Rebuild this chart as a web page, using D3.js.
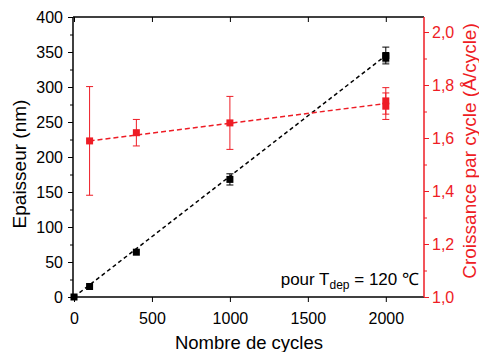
<!DOCTYPE html>
<html><head><meta charset="utf-8">
<script src="https://cdn.jsdelivr.net/npm/d3@7"></script>
<style>body{margin:0;background:#fff}svg{display:block}text{font-family:"Liberation Sans",Arial,sans-serif}</style>
</head><body>
<script>
const cycles = [0, 100, 400, 1000, 2000, 2000];
const thickness = [0, 15, 64, 168, 345, 342];
const thicknessErr = [0, 0, 0, 8, 12, 6];
const growthCycles = [100, 400, 1000, 2000, 2000];
const growth = [1.589, 1.620, 1.657, 1.74, 1.72];
const growthErr = [0.205, 0.05, 0.1, 0.05, 0.05];
const xTicks = [0, 500, 1000, 1500, 2000];
const yTicks = [0, 50, 100, 150, 200, 250, 300, 350, 400];
const y2Ticks = [1.0, 1.2, 1.4, 1.6, 1.8, 2.0];
const fitBlack = [[0, 0], [2000, 345]];
const fitRed = [[100, 1.589], [2000, 1.73]];

const W = 479, H = 352;
const L = 74, R = 424, T = 17, B = 297;
const red = "#ee1c25";
const svg = d3.select("body").append("svg").attr("width", W).attr("height", H);
const x = d3.scaleLinear().domain([0, 2245]).range([L, R]);
const y = d3.scaleLinear().domain([0, 400]).range([B, T]);
const y2 = d3.scaleLinear().domain([1.0, 2.0]).range([B, B - 265]);
const fmt = d3.format(".1f");

// Frame line (top)
svg.append("line").attr("x1", L - 1).attr("x2", R).attr("y1", T).attr("y2", T).attr("stroke", "#000").attr("stroke-width", 1.5);

// Bottom axis
const gx = svg.append("g").attr("transform", `translate(0,${B})`)
  .call(d3.axisBottom(x).tickValues(xTicks).tickSize(5).tickPadding(11).tickFormat(d3.format("d")));
gx.select(".domain").attr("stroke-width", 1.5).attr("d", `M${L - 1},0H${R}`);
gx.selectAll("text").attr("font-size", 16).attr("fill", "#000");
// Top axis ticks inward
svg.append("g").attr("transform", `translate(0,${T})`)
  .call(d3.axisTop(x).tickValues(xTicks).tickSize(-5).tickFormat(""))
  .select(".domain").remove();

// Left axis
const gy = svg.append("g").attr("transform", `translate(${L - 1},0)`)
  .call(d3.axisLeft(y).tickValues(yTicks).tickSize(5).tickPadding(5));
gy.select(".domain").attr("stroke-width", 1.5).attr("d", `M0,${B}V${T}`);
gy.selectAll("text").attr("font-size", 16).attr("fill", "#000");
svg.append("g").attr("transform", `translate(${L - 1},0)`)
  .call(d3.axisLeft(y).tickValues(d3.range(25, 400, 50)).tickSize(3).tickFormat(""))
  .select(".domain").remove();

// Right axis (red)
const gy2 = svg.append("g").attr("transform", `translate(${R},0)`)
  .call(d3.axisRight(y2).tickValues(y2Ticks).tickSize(5).tickPadding(3).tickFormat(d => fmt(d).replace(".", ",")));
gy2.select(".domain").attr("stroke", red).attr("stroke-width", 1.5).attr("d", `M0,${B}V${T}`);
gy2.selectAll("line").attr("stroke", red);
gy2.selectAll("text").attr("font-size", 16).attr("fill", red);
const gy2m = svg.append("g").attr("transform", `translate(${R},0)`)
  .call(d3.axisRight(y2).tickValues([1.1, 1.3, 1.5, 1.7, 1.9]).tickSize(3).tickFormat(""));
gy2m.select(".domain").remove();
gy2m.selectAll("line").attr("stroke", red);

// Fit lines
const lineB = d3.line().x(d => x(d[0])).y(d => y(d[1]));
const lineR = d3.line().x(d => x(d[0])).y(d => y2(d[1]));
svg.append("path").attr("d", lineB(fitBlack)).attr("stroke", "#000").attr("stroke-width", 1.5)
  .attr("stroke-dasharray", "4,3").attr("fill", "none");
svg.append("path").attr("d", lineR(fitRed)).attr("stroke", red).attr("stroke-width", 1.5)
  .attr("stroke-dasharray", "5,3").attr("fill", "none");

// Error bars
function errBars(xs, vs, es, sc, col) {
  const g = svg.append("g").attr("stroke", col).attr("stroke-width", 1);
  xs.forEach((c, i) => {
    if (!es[i]) return;
    const cx = x(c), y1 = sc(vs[i] + es[i]), y0 = sc(vs[i] - es[i]);
    g.append("line").attr("x1", cx).attr("x2", cx).attr("y1", y1).attr("y2", y0);
    g.append("line").attr("x1", cx - 3.5).attr("x2", cx + 3.5).attr("y1", y1).attr("y2", y1);
    g.append("line").attr("x1", cx - 3.5).attr("x2", cx + 3.5).attr("y1", y0).attr("y2", y0);
  });
}
errBars(cycles, thickness, thicknessErr, y, "#000");
errBars(growthCycles, growth, growthErr, y2, red);

// Markers
const s = 7;
svg.append("g").selectAll("rect").data(cycles.map((c, i) => [c, thickness[i]])).join("rect")
  .attr("x", d => x(d[0]) - s / 2).attr("y", d => y(d[1]) - s / 2).attr("width", s).attr("height", s).attr("fill", "#000");
svg.append("g").selectAll("rect").data(growthCycles.map((c, i) => [c, growth[i]])).join("rect")
  .attr("x", d => x(d[0]) - s / 2).attr("y", d => y2(d[1]) - s / 2).attr("width", s).attr("height", s).attr("fill", red);

// Titles
svg.append("text").attr("x", 249).attr("y", 349).attr("text-anchor", "middle").attr("font-size", 18.5).text("Nombre de cycles");
svg.append("text").attr("transform", `translate(26,164) rotate(-90)`).attr("text-anchor", "middle")
  .attr("font-size", 19).text("Epaisseur (nm)");
svg.append("text").attr("transform", `translate(476,151) rotate(-90)`).attr("text-anchor", "middle")
  .attr("font-size", 19).attr("fill", red).text("Croissance par cycle (Å/cycle)");

const t = svg.append("text").attr("x", 419).attr("y", 285).attr("text-anchor", "end").attr("font-size", 17);
t.append("tspan").text("pour T");
t.append("tspan").attr("font-size", 12).attr("dy", 4).text("dep");
t.append("tspan").attr("dy", -4).text(" = 120 ℃");
</script>
</body></html>
